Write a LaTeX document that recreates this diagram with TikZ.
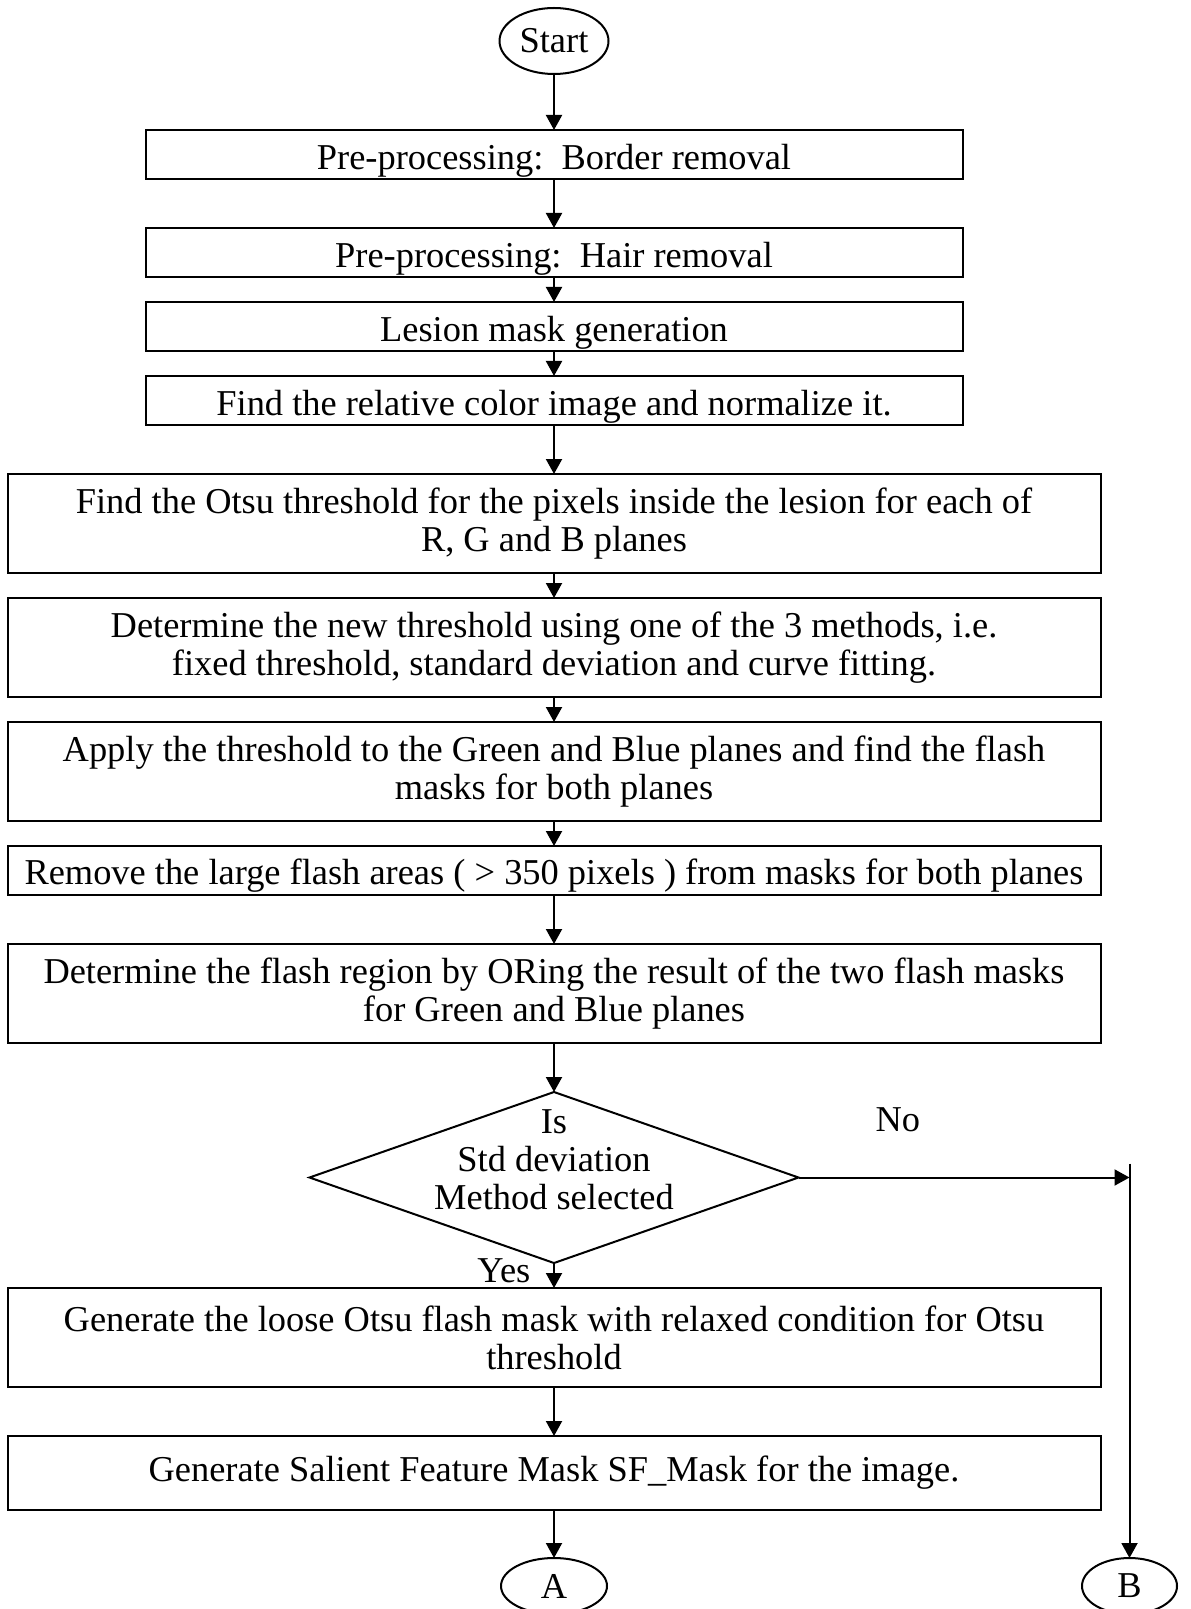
\documentclass[tikz,border=0pt]{standalone}
\usepackage{fontspec}
\setmainfont{Liberation Serif}
\usetikzlibrary{arrows.meta, positioning, shapes.geometric}

\begin{document}
\begin{tikzpicture}[
    font=\fontsize{18.2}{19}\selectfont,
    line width=1pt,
    term/.style={ellipse, draw, inner sep=0pt, outer sep=0pt, minimum width=54.5pt, minimum height=33pt},
    conn/.style={ellipse, draw, inner sep=0pt, outer sep=0pt, minimum width=53pt, minimum height=28pt},
    box/.style={rectangle, draw, align=center, inner sep=2pt, outer sep=0pt, minimum height=24.5pt},
    proc/.style={box, minimum width=408.5pt, text height=15pt, text depth=0pt},
    wproc/.style={box, minimum width=546.5pt, text height=14pt, text depth=0pt},
    dproc/.style={box, minimum width=546.5pt, minimum height=49.5pt},
    decide/.style={diamond, draw, inner sep=0pt, outer sep=0pt, minimum width=244.5pt, minimum height=85.5pt},
    flow/.style={-{Triangle[length=7.5pt, width=8pt]}}
  ]
  \useasboundingbox (0,0) rectangle (595pt,-804.5pt);

  \node[term] (start) at (277pt,-20.5pt) {Start};
  \node[proc, below=28pt of start] (border) {Pre-processing:\ \ Border removal};
  \node[proc, below=24.5pt of border] (hair) {Pre-processing:\ \ Hair removal};
  \node[proc, below=12.5pt of hair] (lesion) {Lesion mask generation};
  \node[proc, below=12.5pt of lesion] (relcol) {Find the relative color image and normalize it.};
  \node[dproc, below=24.5pt of relcol] (otsu) {Find the Otsu threshold for the pixels inside the lesion for each of\\R, G and B planes};
  \node[dproc, below=12.5pt of otsu] (newthr) {Determine the new threshold using one of the 3 methods, i.e.\\fixed threshold, standard deviation and curve fitting.};
  \node[dproc, below=12.5pt of newthr] (apply) {Apply the threshold to the Green and Blue planes and find the flash\\masks for both planes};
  \node[wproc, below=12.5pt of apply] (large) {Remove the large flash areas ( > 350 pixels ) from masks for both planes};
  \node[dproc, below=24.5pt of large] (oring) {Determine the flash region by ORing the result of the two flash masks\\for Green and Blue planes};
  \node[decide, below=24.5pt of oring] (dec) {};
  \node[align=center] (dectext) at ([yshift=9pt]dec.center) {Is\\Std deviation\\Method selected};
  \node[dproc, below=12.5pt of dec] (loose) {Generate the loose Otsu flash mask with relaxed condition for Otsu\\threshold};
  \node[dproc, minimum height=37pt, below=24.5pt of loose] (sfmask) {Generate Salient Feature Mask SF\_Mask for the image.};
  \node[conn, below=24pt of sfmask] (a) {A};
  \node[conn, minimum width=47.5pt, right=237.5pt of a] (b) {B};
  \coordinate (nojoin) at (b.north |- dec.east);

  \draw[flow] (start) -- (border);
  \draw[flow] (border) -- (hair);
  \draw[flow] (hair) -- (lesion);
  \draw[flow] (lesion) -- (relcol);
  \draw[flow] (relcol) -- (otsu);
  \draw[flow] (otsu) -- (newthr);
  \draw[flow] (newthr) -- (apply);
  \draw[flow] (apply) -- (large);
  \draw[flow] (large) -- (oring);
  \draw[flow] (oring) -- (dec);
  \draw[flow] (dec) -- node[left=8pt, pos=0.3] (yes) {Yes} (loose);
  \draw[flow] (dec.east) -- node[above=19pt, pos=0.3] (no) {No} (nojoin);
  \draw[flow] ([yshift=7pt]nojoin) -- (b);
  \draw[flow] (loose) -- (sfmask);
  \draw[flow] (sfmask) -- (a);
\end{tikzpicture}
\end{document}
